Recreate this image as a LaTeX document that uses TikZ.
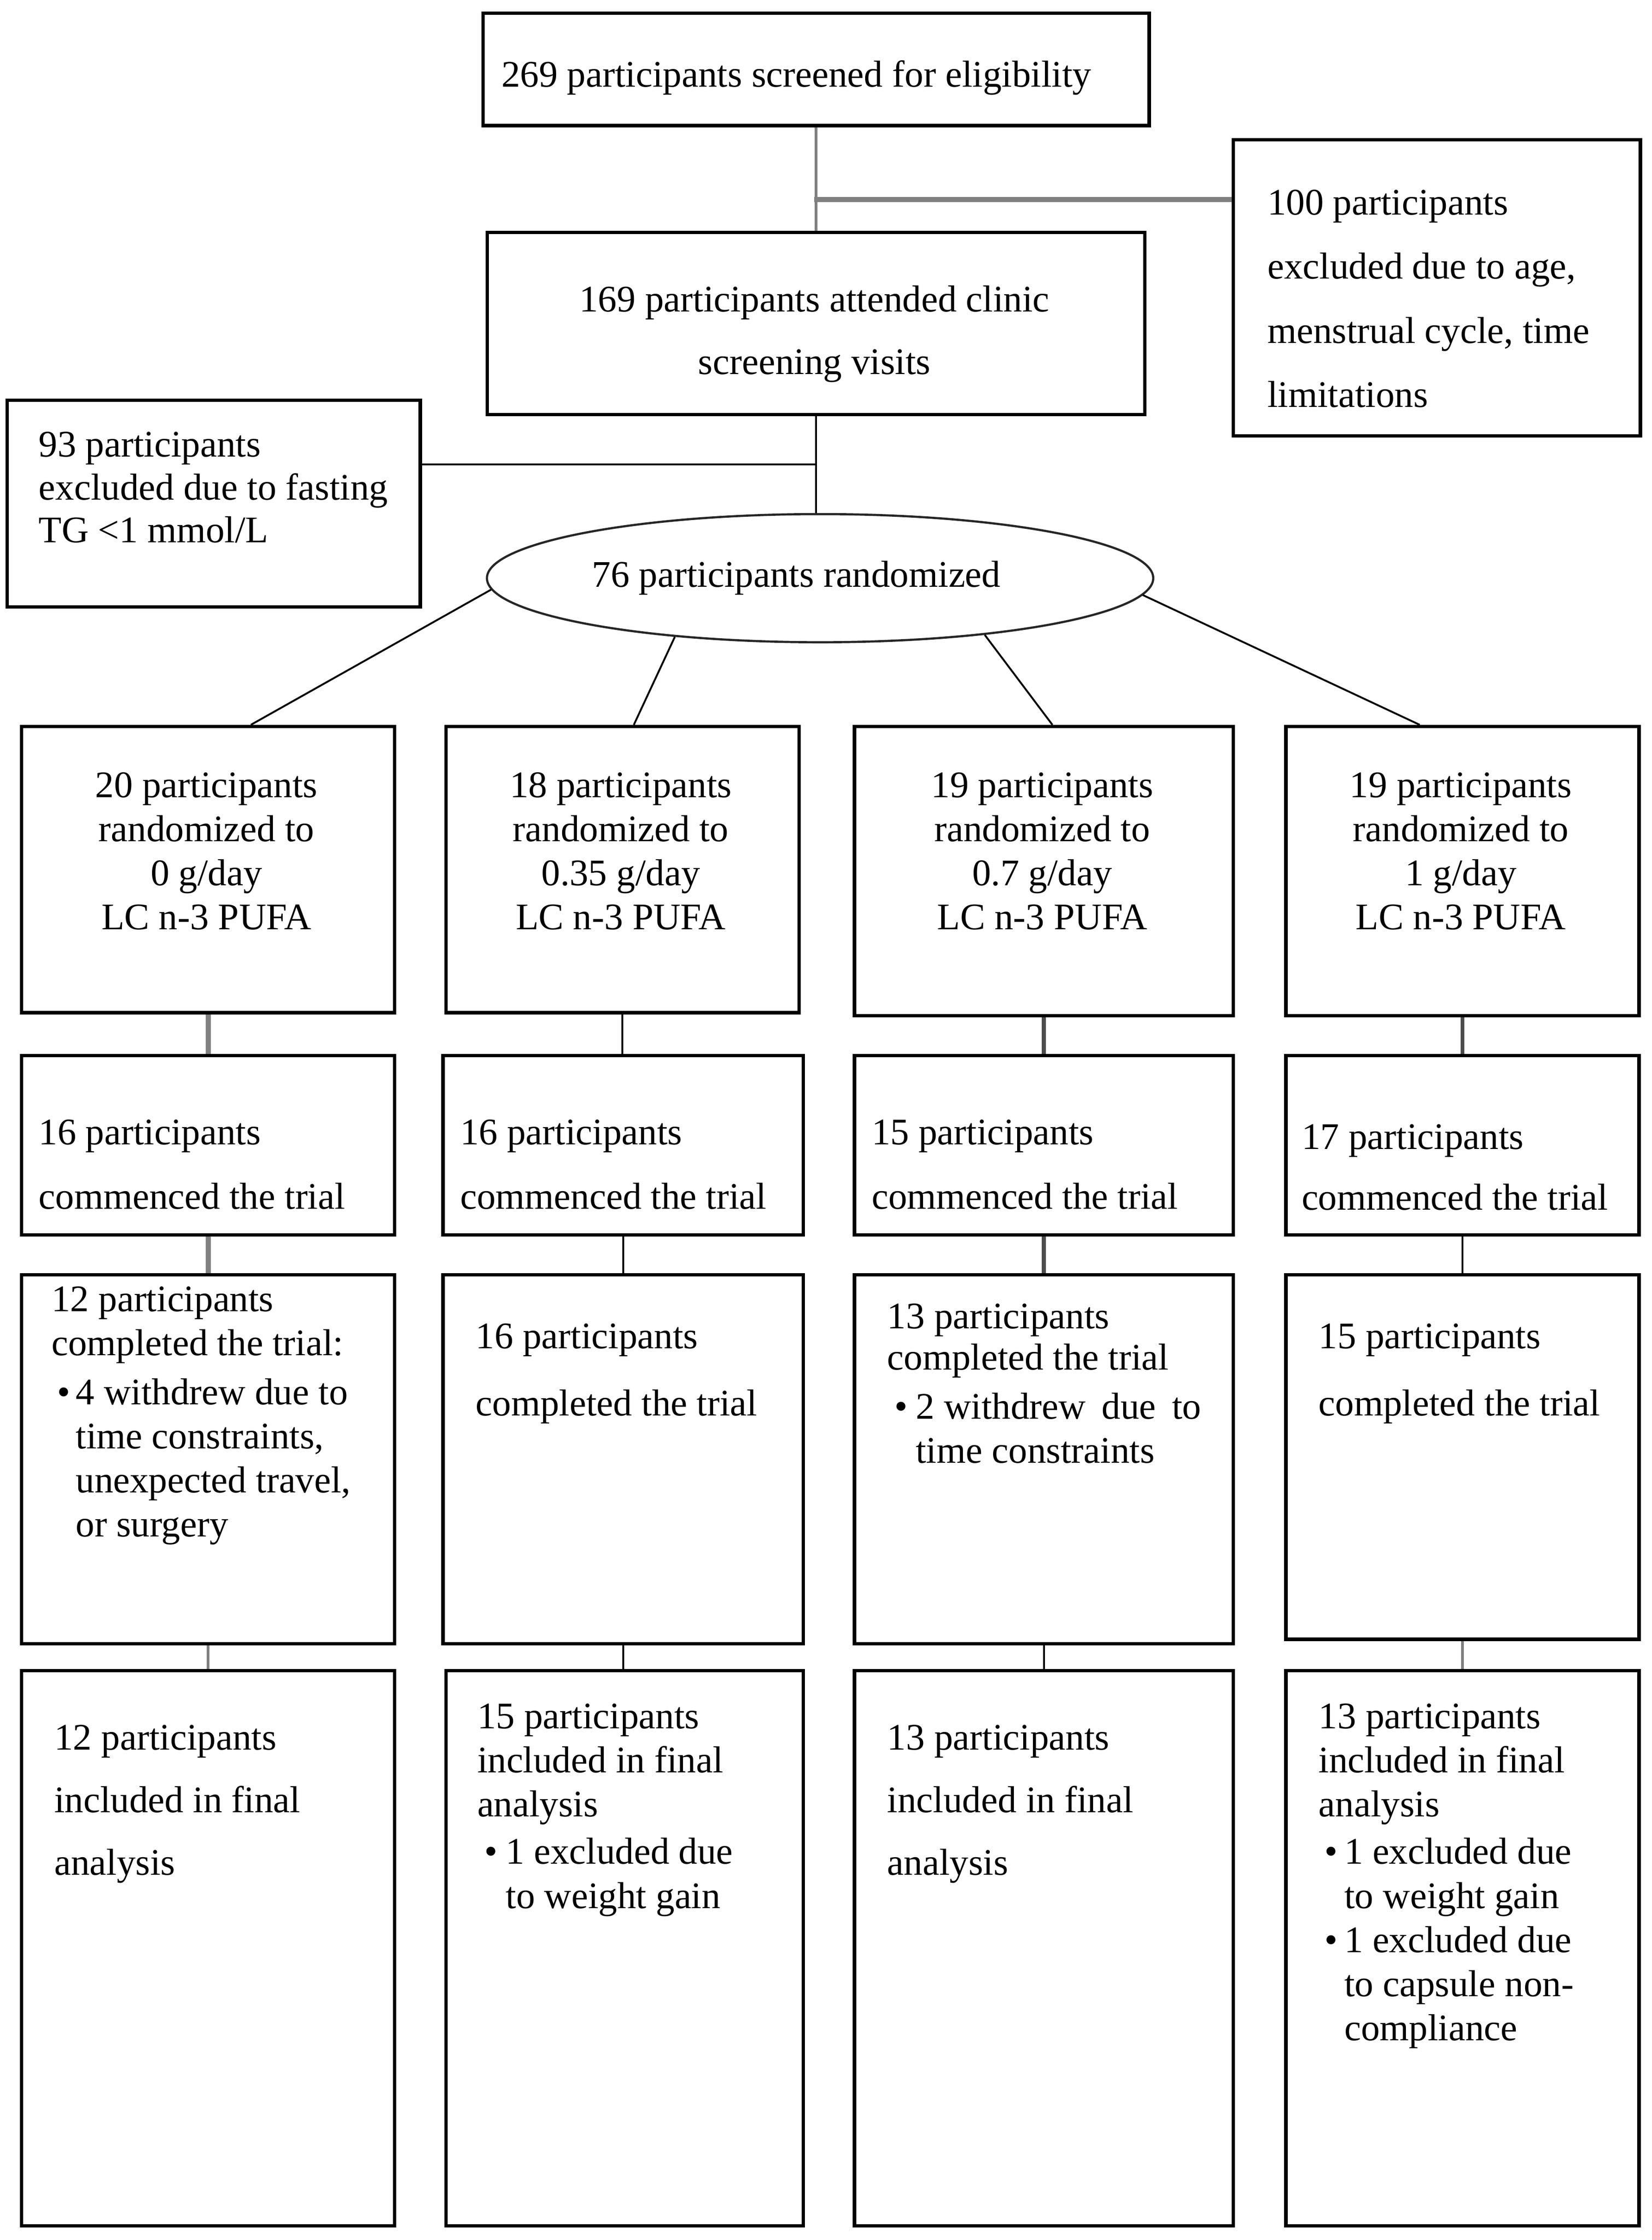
\documentclass[tikz,border=0pt]{standalone}
\usepackage{fontspec}
\setmainfont{Liberation Serif}
\usetikzlibrary{shapes.geometric,calc}
\newcommand\bulx[2]{\hspace*{#1}\makebox[\dimexpr#2-#1\relax][l]{\textbullet}}
\begin{document}
\begin{tikzpicture}[x=0.03cm,y=-0.03cm,
  box/.style 2 args={draw=black, line width=2pt, rectangle, inner sep=0pt, anchor=north west,
    minimum width={#1*0.03cm}, minimum height={#2*0.03cm}},
  txt/.style={font=\fontsize{22.5}{26.4}\selectfont, inner sep=0pt, align=left, anchor=north west, yshift=-0.12cm},
  ctxt/.style={font=\fontsize{22.5}{26.4}\selectfont, inner sep=0pt, align=center, anchor=north, yshift=-0.12cm},
  conn/.style={draw=black, line width=1.1pt},
  gconn/.style={draw=black!50, line width=1.8pt},
  gthick/.style={draw=black!50, line width=3pt},
  dconn/.style={draw=black!70, line width=2.4pt},
  ell/.style={draw=black!85, line width=1.3pt, ellipse, inner sep=0pt,
    minimum width={468*0.03cm}, minimum height={90*0.03cm}, font=\fontsize{22.5}{26.4}\selectfont}
]
\useasboundingbox (0,0) rectangle (1160,1573);

% top part
\node[box={468}{79}] (top) at (338,8) {};
\node[txt] (ttop) at (352,35) {\strut 269 participants screened for eligibility};
\node[box={286}{208}] (b100) at (865,97) {};
\node[txt] (t100) at (890,125) {\strut 100 participants\\[12pt]excluded due to age,\\[12pt]menstrual cycle, time\\[12pt]limitations};
\node[box={462}{128}] (v169) at (341,162) {};
\node[ctxt] (t169) at (572,193) {\strut 169 participants attended clinic\\[11pt]screening visits};
\node[box={290}{145}] (b93) at (4,280) {};
\node[txt] (t93) at (27,295) {\strut 93 participants\\[-0.8pt]excluded due to fasting\\[-0.8pt]TG <1 mmol/L};
\node[ell] (ell) at (576,406) {\hspace*{-1cm}76 participants randomized};

\coordinate (j1) at (572,140);
\coordinate (j2) at (573,326);
\draw[gconn] (top.south) -- (top.south |- v169.north);
\draw[gthick] (j1) -- (j1 -| b100.west);
\draw[conn] (v169.south) -- (v169.south |- ell.north);
\draw[conn] (j2) -- (j2 -| b93.east);

% row 1
\node[box={262}{201}] (b1) at (14,509) {};
\node[box={248}{201}] (b2) at (312,509) {};
\node[box={266}{203}] (b3) at (599,509) {};
\node[box={248}{203}] (b4) at (902,509) {};
\node[ctxt] (tb1) at (145,534) {\strut 20 participants\\randomized to\\0 g/day\\LC n-3 PUFA};
\node[ctxt] (tb2) at (436,534) {\strut 18 participants\\randomized to\\0.35 g/day\\LC n-3 PUFA};
\node[ctxt] (tb3) at (732,534) {\strut 19 participants\\randomized to\\0.7 g/day\\LC n-3 PUFA};
\node[ctxt] (tb4) at (1026,534) {\strut 19 participants\\randomized to\\1 g/day\\LC n-3 PUFA};

\draw[conn] (ell.182.7) -- ([xshift=0.9cm]b1.north);
\draw[conn] (ell.202) -- ([xshift=0.24cm]b2.north);
\draw[conn] (ell.341.3) -- ([xshift=0.18cm]b3.north);
\draw[conn] (ell.357.8) -- ([xshift=-0.9cm]b4.north);

% row 2
\node[box={262}{126}] (c1) at (14,740) {};
\node[box={253}{126}] (c2) at (310,740) {};
\node[box={266}{126}] (c3) at (599,740) {};
\node[box={248}{126}] (c4) at (902,740) {};
\node[txt] (tc1) at (27,778) {\strut 16 participants\\[12pt]commenced the trial};
\node[txt] (tc2) at (323,778) {\strut 16 participants\\[12pt]commenced the trial};
\node[txt] (tc3) at (612,778) {\strut 15 participants\\[12pt]commenced the trial};
\node[txt] (tc4) at (914,781) {\strut 17 participants\\[10pt]commenced the trial};

\draw[gthick] (b1.south) -- (b1.south |- c1.north);
\draw[conn] (b2.south) -- (b2.south |- c2.north);
\draw[dconn] (b3.south) -- (b3.south |- c3.north);
\draw[dconn] (b4.south) -- (b4.south |- c4.north);

% row 3
\node[box={262}{259}] (d1) at (14,894) {};
\node[box={253}{259}] (d2) at (310,894) {};
\node[box={266}{259}] (d3) at (599,894) {};
\node[box={248}{256}] (d4) at (902,894) {};
\node[txt] (td1) at (36,895) {\strut 12 participants\\completed the trial:\\[3pt]\bulx{3.4pt}{14.5pt}4 withdrew due to\\\hspace*{14.5pt}time constraints,\\\hspace*{14.5pt}unexpected travel,\\\hspace*{14.5pt}or surgery};
\node[txt] (td2) at (334,921) {\strut 16 participants\\[14pt]completed the trial};
\node[txt] (td3) at (623,907) {\strut 13 participants\\[-1.5pt]completed the trial\\[3pt]\bulx{4.3pt}{17.1pt}2 withdrew\hspace{4pt} due\hspace{4pt} to\\\hspace*{17.1pt}time constraints};
\node[txt] (td4) at (926,921) {\strut 15 participants\\[14pt]completed the trial};

\draw[gthick] (c1.south) -- (c1.south |- d1.north);
\draw[conn] (c2.south) -- (c2.south |- d2.north);
\draw[dconn] (c3.south) -- (c3.south |- d3.north);
\draw[conn] (c4.south) -- (c4.south |- d4.north);

% row 4
\node[box={262}{390}] (e1) at (14,1172) {};
\node[box={251}{390}] (e2) at (312,1172) {};
\node[box={266}{390}] (e3) at (599,1172) {};
\node[box={248}{390}] (e4) at (902,1172) {};
\node[txt] (te1) at (38,1203) {\strut 12 participants\\[11pt]included in final\\[11pt]analysis};
\node[txt] (te2) at (335,1188) {\strut 15 participants\\included in final\\analysis\\[2pt]\bulx{4.3pt}{17.1pt}1 excluded due\\\hspace*{17.1pt}to weight gain};
\node[txt] (te3) at (623,1203) {\strut 13 participants\\[11pt]included in final\\[11pt]analysis};
\node[txt] (te4) at (926,1188) {\strut 13 participants\\included in final\\analysis\\[2pt]\bulx{3.4pt}{15.4pt}1 excluded due\\\hspace*{15.4pt}to weight gain\\\bulx{3.4pt}{15.4pt}1 excluded due\\\hspace*{15.4pt}to capsule non-\\\hspace*{15.4pt}compliance};

\draw[gconn] (d1.south) -- (d1.south |- e1.north);
\draw[conn] (d2.south) -- (d2.south |- e2.north);
\draw[conn] (d3.south) -- (d3.south |- e3.north);
\draw[gconn] (d4.south) -- (d4.south |- e4.north);
\end{tikzpicture}
\end{document}
